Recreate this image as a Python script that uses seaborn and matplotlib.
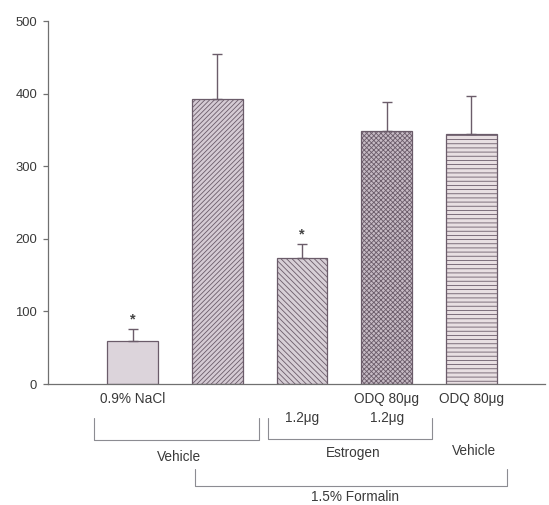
import numpy as np
import pandas as pd
import seaborn as sns
import matplotlib
matplotlib.use("Agg")
import matplotlib.pyplot as plt

# bar data
groups = ["nacl", "formalin_vehicle", "estrogen", "odq_estrogen", "odq_vehicle"]
values = [59, 392, 174, 349, 345]
errors = [17, 62, 19, 39, 52]
significant = [True, False, True, False, False]
tick_labels = ["0.9% NaCl", "", "\n1.2\u03bcg", "ODQ 80\u03bcg\n1.2\u03bcg", "ODQ 80\u03bcg"]
y_ticks = [0, 100, 200, 300, 400, 500]

fills = ["#ddd3dc", "#d6cad5", "#d9cdd7", "#c8b8c5", "#eadde2"]
hatches = ["", "///////", "\\\\\\\\\\\\", "xxxxxxx", "----"]
edge = "#6b5c6a"

sns.set_style("white")
plt.rcParams["font.family"] = ["Liberation Sans", "DejaVu Sans"]
plt.rcParams["hatch.linewidth"] = 0.6

df = pd.DataFrame({"group": groups, "value": values})

fig = plt.figure(figsize=(5.49, 5.05), dpi=100)
ax = fig.add_axes([0.0874, 0.2396, 0.9056, 0.7188])

sns.barplot(data=df, x="group", y="value", hue="group", order=groups,
            palette=fills, legend=False, width=0.6, errorbar=None,
            edgecolor=edge, linewidth=0.9, ax=ax)

for patch, h in zip(ax.patches, hatches):
    patch.set_hatch(h)

# upper error bars only
pos = np.arange(len(values))
ax.errorbar(pos, values, yerr=[np.zeros(len(errors)), errors], fmt="none",
            ecolor=edge, elinewidth=1.0, capsize=3.3, capthick=1.0)

for i, (v, e, s) in enumerate(zip(values, errors, significant)):
    if s:
        ax.annotate("*", (i, v + e), xytext=(0, 2), textcoords="offset points",
                    ha="center", va="bottom", fontsize=10.5, fontweight="bold",
                    color="#444444")

ax.set_ylim(0, 500)
ax.set_xlim(-1, 4.87)
ax.set_yticks(y_ticks)
ax.set_xticks(pos)
ax.set_xticklabels(tick_labels, fontsize=9.8, color="#3a3a3a", linespacing=1.4)
ax.tick_params(axis="x", length=0, pad=6)
ax.tick_params(axis="y", length=3.6, width=0.9, color="#707070", labelsize=9.4,
               labelcolor="#3a3a3a", pad=4.3, left=True)
ax.set_xlabel("")
ax.set_ylabel("")
sns.despine(ax=ax)
for sp in ["left", "bottom"]:
    ax.spines[sp].set_color("#707070")
    ax.spines[sp].set_linewidth(0.9)

# group brackets below the axis
tr = ax.get_xaxis_transform()
br_kw = dict(color="#8c8c92", lw=0.8, transform=tr, clip_on=False)


def bracket(x0, x1, ytop, ybot):
    ax.plot([x0, x0, x1, x1], [ytop, ybot, ybot, ytop], **br_kw)


bracket(-0.454, 1.493, -0.094, -0.154)
bracket(1.60, 3.53, -0.094, -0.152)
bracket(0.737, 4.42, -0.234, -0.281)

txt_kw = dict(transform=tr, ha="center", va="center", fontsize=9.8, color="#3a3a3a")
ax.text(0.55, -0.201, "Vehicle", **txt_kw)
ax.text(2.60, -0.190, "Estrogen", **txt_kw)
ax.text(4.03, -0.185, "Vehicle", **txt_kw)
ax.text(2.625, -0.311, "1.5% Formalin", **txt_kw)

fig.savefig("out.png", dpi=100)
